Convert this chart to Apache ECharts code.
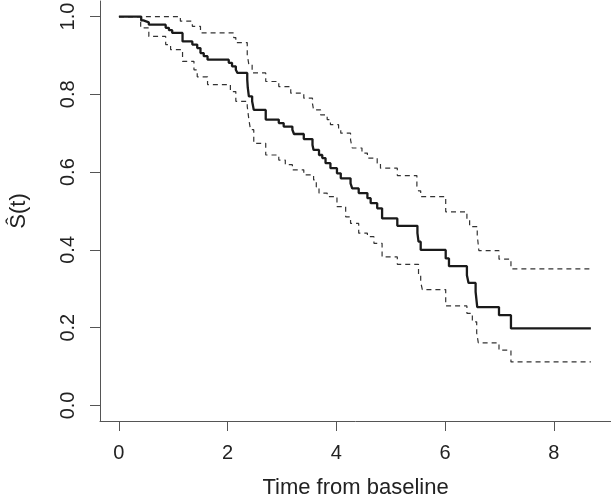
<!DOCTYPE html>
<html>
<head>
<meta charset="utf-8">
<script src="https://cdn.jsdelivr.net/npm/echarts@6/dist/echarts.min.js"></script>
<style>
html,body{margin:0;padding:0;background:#fff;}
#chart{width:611px;height:502px;}
</style>
</head>
<body>
<div id="chart"></div>
<script>
// Kaplan-Meier estimate: step times and survival after each step
const survTime = [0, 0.41, 0.45, 0.55, 0.86, 0.92, 0.98, 1.17, 1.35, 1.44, 1.50, 1.56, 1.63, 2.02, 2.08, 2.15, 2.18, 2.36, 2.37, 2.39, 2.45, 2.48, 2.70, 2.94, 3.03, 3.19, 3.22, 3.40, 3.56, 3.58, 3.68, 3.74, 3.80, 3.89, 4.01, 4.08, 4.26, 4.29, 4.41, 4.57, 4.63, 4.75, 4.84, 5.12, 5.49, 5.51, 5.55, 6.01, 6.07, 6.40, 6.43, 6.56, 6.59, 6.99, 7.21, 8.68];
const survEst  = [1.0, 0.990, 0.985, 0.979, 0.971, 0.965, 0.958, 0.936, 0.928, 0.919, 0.906, 0.898, 0.889, 0.881, 0.872, 0.863, 0.855, 0.838, 0.817, 0.795, 0.782, 0.760, 0.735, 0.726, 0.717, 0.709, 0.698, 0.685, 0.670, 0.657, 0.644, 0.636, 0.623, 0.610, 0.597, 0.584, 0.571, 0.558, 0.546, 0.533, 0.520, 0.507, 0.481, 0.462, 0.443, 0.421, 0.400, 0.378, 0.358, 0.335, 0.315, 0.292, 0.253, 0.232, 0.198, 0.198];

// Upper confidence limit
const upperTime = [0, 1.13, 1.35, 1.50, 2.11, 2.15, 2.36, 2.39, 2.45, 2.70, 2.94, 3.16, 3.40, 3.56, 3.58, 3.71, 3.83, 3.89, 4.04, 4.08, 4.26, 4.29, 4.47, 4.57, 4.75, 4.81, 5.12, 5.48, 5.51, 5.55, 6.01, 6.40, 6.45, 6.59, 6.62, 6.99, 7.21, 8.68];
const upperEst  = [1.0, 0.988, 0.975, 0.958, 0.946, 0.933, 0.902, 0.876, 0.855, 0.833, 0.820, 0.803, 0.790, 0.776, 0.760, 0.747, 0.735, 0.722, 0.709, 0.700, 0.683, 0.662, 0.649, 0.636, 0.623, 0.610, 0.591, 0.563, 0.552, 0.537, 0.498, 0.477, 0.460, 0.438, 0.398, 0.376, 0.351, 0.351];

// Lower confidence limit
const lowerTime = [0, 0.40, 0.55, 0.86, 0.95, 1.17, 1.38, 1.44, 1.63, 2.05, 2.15, 2.36, 2.39, 2.42, 2.48, 2.70, 2.94, 3.06, 3.19, 3.40, 3.58, 3.63, 3.68, 3.83, 4.01, 4.17, 4.26, 4.41, 4.57, 4.69, 4.84, 5.12, 5.51, 5.55, 5.58, 6.01, 6.40, 6.50, 6.58, 6.61, 6.99, 7.21, 8.68];
const lowerEst  = [1.0, 0.971, 0.949, 0.928, 0.915, 0.885, 0.863, 0.845, 0.825, 0.807, 0.782, 0.769, 0.735, 0.709, 0.674, 0.644, 0.631, 0.619, 0.606, 0.593, 0.580, 0.562, 0.546, 0.537, 0.511, 0.485, 0.468, 0.443, 0.434, 0.417, 0.382, 0.363, 0.335, 0.317, 0.298, 0.256, 0.237, 0.215, 0.186, 0.161, 0.142, 0.112, 0.112];

const xTicks = [0, 2, 4, 6, 8];
const yTicks = [0, 0.2, 0.4, 0.6, 0.8, 1.0];

const pairs = (t, s) => t.map((v, i) => [v, s[i]]);

const chart = echarts.init(document.getElementById('chart'));
const font = 'Liberation Sans, Arial, Helvetica, sans-serif';
chart.setOption({
  animation: false,
  backgroundColor: '#fff',
  grid: { left: 100, right: 0, top: 1, bottom: 81, containLabel: false, outerBoundsMode: 'none' },
  xAxis: {
    type: 'value',
    min: -0.348, max: 9.05,
    name: 'Time from baseline',
    nameLocation: 'middle',
    nameGap: 56,
    nameTextStyle: { fontFamily: font, fontSize: 22, color: '#222' },
    axisLine: { show: true, onZero: false, lineStyle: { color: '#555', width: 1 } },
    axisTick: { show: true, length: 10, customValues: xTicks, lineStyle: { color: '#555' } },
    axisLabel: { customValues: xTicks, fontFamily: font, fontSize: 20, color: '#222', margin: 22,
                 formatter: v => String(v) },
    splitLine: { show: false }
  },
  yAxis: {
    type: 'value',
    min: -0.04, max: 1.04,
    name: 'Ŝ(t)',
    nameLocation: 'middle',
    nameGap: 70,
    nameRotate: 90,
    nameTextStyle: { fontFamily: font, fontSize: 22, color: '#222' },
    axisLine: { show: true, onZero: false, lineStyle: { color: '#555', width: 1 } },
    axisTick: { show: true, length: 10, customValues: yTicks, lineStyle: { color: '#555' } },
    axisLabel: { customValues: yTicks, fontFamily: font, fontSize: 20, color: '#222', margin: 22,
                 rotate: 90, formatter: v => v.toFixed(1) },
    splitLine: { show: false }
  },
  series: [
    { type: 'line', step: 'end', symbol: 'none', data: pairs(upperTime, upperEst),
      lineStyle: { color: '#333', width: 1.2, type: [5, 4] } },
    { type: 'line', step: 'end', symbol: 'none', data: pairs(lowerTime, lowerEst),
      lineStyle: { color: '#333', width: 1.2, type: [5, 4] } },
    { type: 'line', step: 'end', symbol: 'none', data: pairs(survTime, survEst),
      lineStyle: { color: '#1a1a1a', width: 2.3 } }
  ]
});
</script>
</body>
</html>
